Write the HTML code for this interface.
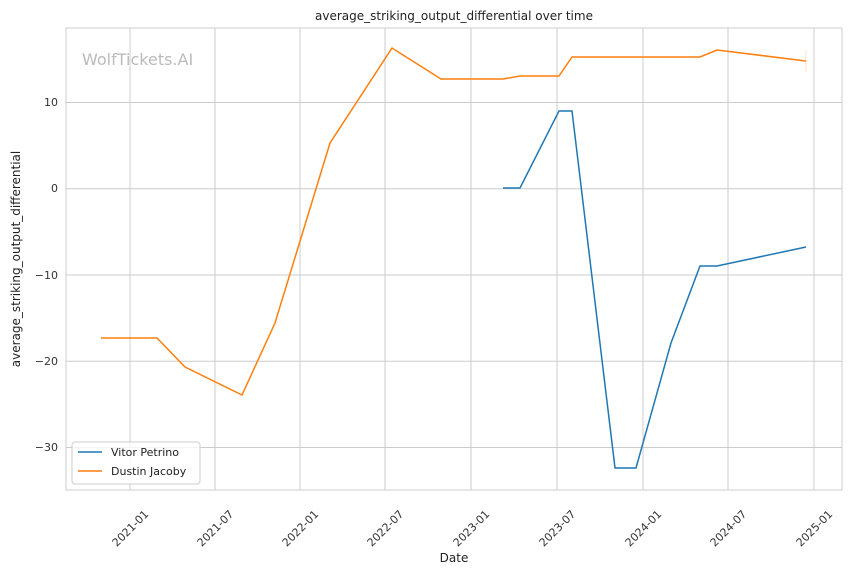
<!DOCTYPE html>
<html><head><meta charset="utf-8"><style>body{margin:0;background:#fff}svg{display:block;font-family:"DejaVu Sans","Liberation Sans",sans-serif}</style></head><body>
<svg width="850" height="575" viewBox="0 0 850 575">
<rect width="850" height="575" fill="#fff"/>
<g stroke="#cccccc" stroke-width="1">
<line x1="130" y1="28" x2="130" y2="490"/><line x1="215" y1="28" x2="215" y2="490"/><line x1="300" y1="28" x2="300" y2="490"/><line x1="385" y1="28" x2="385" y2="490"/><line x1="471" y1="28" x2="471" y2="490"/><line x1="557" y1="28" x2="557" y2="490"/><line x1="643" y1="28" x2="643" y2="490"/><line x1="728" y1="28" x2="728" y2="490"/><line x1="814" y1="28" x2="814" y2="490"/>
<line x1="66" y1="102.5" x2="842" y2="102.5"/><line x1="66" y1="188.75" x2="842" y2="188.75"/><line x1="66" y1="275" x2="842" y2="275"/><line x1="66" y1="361.25" x2="842" y2="361.25"/><line x1="66" y1="447.5" x2="842" y2="447.5"/>
</g>
<rect x="66" y="28" width="776" height="462" fill="none" stroke="#cccccc" stroke-width="1"/>
<text x="82" y="65" font-size="16" fill="#bbbbbb">WolfTickets.AI</text>
<polyline fill="none" stroke="#ff7f0e" stroke-width="1.5" points="101,338 157,338 185,367 242,395 275,323 330,143 392,48 441,79 503,79 520,76 559,76 572,57 700,57 717,50 806,61"/>
<line x1="806" y1="50" x2="806" y2="72" stroke="#ff7f0e" stroke-width="0.6" opacity="0.4"/>
<polyline fill="none" stroke="#1f77b4" stroke-width="1.5" points="503,188 520,188 559,111 572,111 615,468 636,468 671,343 700,266 717,266 806,247"/>
<g font-size="11" fill="#333" text-anchor="end">
<text x="58" y="106">10</text><text x="58" y="192">0</text><text x="58" y="279">−10</text><text x="58" y="365">−20</text><text x="58" y="451">−30</text>
</g>
<g font-size="11" fill="#333" text-anchor="middle">
<text transform="translate(133,531) rotate(-45)">2021-01</text>
<text transform="translate(218,531) rotate(-45)">2021-07</text>
<text transform="translate(303,531) rotate(-45)">2022-01</text>
<text transform="translate(388,531) rotate(-45)">2022-07</text>
<text transform="translate(474,531) rotate(-45)">2023-01</text>
<text transform="translate(560,531) rotate(-45)">2023-07</text>
<text transform="translate(646,531) rotate(-45)">2024-01</text>
<text transform="translate(731,531) rotate(-45)">2024-07</text>
<text transform="translate(817,531) rotate(-45)">2025-01</text>
</g>
<text x="454" y="562" font-size="12" fill="#222" text-anchor="middle">Date</text>
<text transform="translate(20,259) rotate(-90)" font-size="12" fill="#222" text-anchor="middle">average_striking_output_differential</text>
<text x="454" y="20" font-size="12" fill="#222" text-anchor="middle">average_striking_output_differential over time</text>
<rect x="72" y="442" width="128" height="42" rx="3" fill="#fff" fill-opacity="0.8" stroke="#cccccc"/>
<line x1="78" y1="452" x2="102" y2="452" stroke="#1f77b4" stroke-width="1.5"/>
<text x="111" y="456" font-size="11" fill="#222">Vitor Petrino</text>
<line x1="78" y1="471" x2="102" y2="471" stroke="#ff7f0e" stroke-width="1.5"/>
<text x="111" y="475" font-size="11" fill="#222">Dustin Jacoby</text>
</svg>
</body></html>
